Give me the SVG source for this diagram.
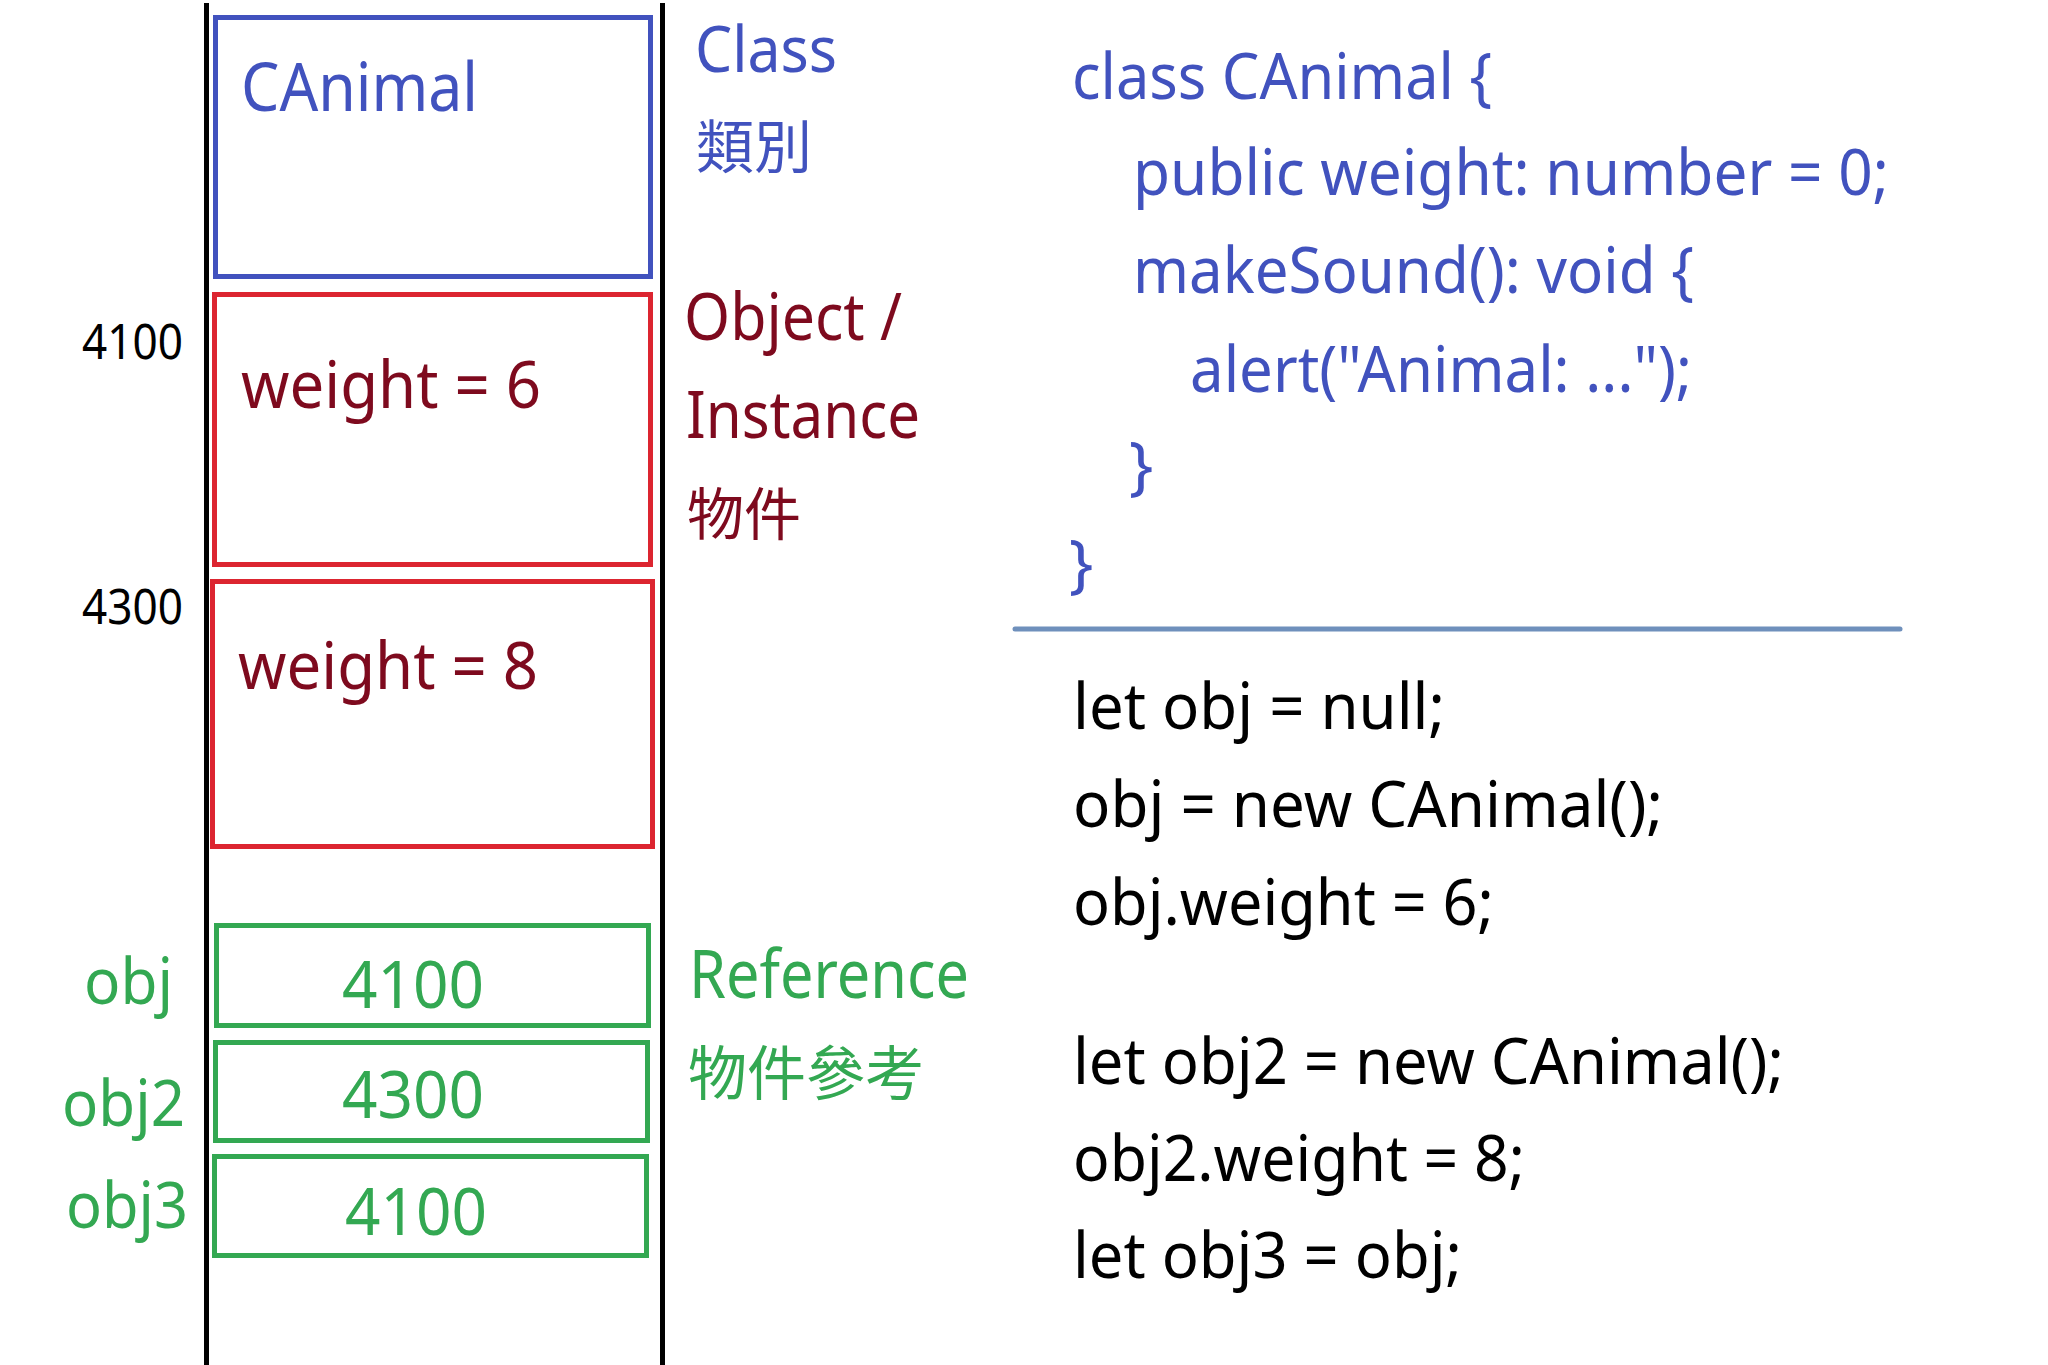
<svg xmlns="http://www.w3.org/2000/svg" width="2048" height="1365" viewBox="0 0 2048 1365">
<style>
text{font-family:"Noto Sans","Open Sans","Noto Sans CJK TC",sans-serif}
.cjk{font-family:"Noto Sans CJK TC","Noto Sans",sans-serif}
.blue{fill:#4152BE}
.maroon{fill:#7E0A1E}
.green{fill:#33A852}
.black{fill:#000}
.bx{fill:none;stroke-width:5}
.cls{stroke:#4152BE}
.obj{stroke:#DC2530}
.ref{stroke:#33A852}
.code{font-size:64px}
</style>
<rect width="2048" height="1365" fill="#fff"/>
<g id="memory-lines">
<line x1="206.5" y1="3" x2="206.5" y2="1365" stroke="#000" stroke-width="5"/>
<line x1="662.5" y1="3" x2="662.5" y2="1365" stroke="#000" stroke-width="5"/>
</g>
<g id="class-box">
<rect class="bx cls" x="215.5" y="17.5" width="435" height="259"/>
<text class="blue" x="241" y="111" font-size="67" textLength="237" lengthAdjust="spacingAndGlyphs">CAnimal</text>
</g>
<g id="object-1">
<rect class="bx obj" x="214.5" y="294.5" width="436" height="270"/>
<text class="maroon" x="241" y="408" font-size="66" textLength="300" lengthAdjust="spacingAndGlyphs">weight = 6</text>
<text class="black" x="82" y="359" font-size="49" textLength="101" lengthAdjust="spacingAndGlyphs">4100</text>
</g>
<g id="object-2">
<rect class="bx obj" x="212.5" y="581.5" width="440" height="265"/>
<text class="maroon" x="238" y="689" font-size="66" textLength="300" lengthAdjust="spacingAndGlyphs">weight = 8</text>
<text class="black" x="82" y="624" font-size="49" textLength="101" lengthAdjust="spacingAndGlyphs">4300</text>
</g>
<g id="ref-obj">
<rect class="bx ref" x="216.5" y="925.5" width="432" height="100"/>
<text class="green" x="342" y="1008" font-size="65" textLength="142" lengthAdjust="spacingAndGlyphs">4100</text>
<text class="green" x="84" y="1004" font-size="63" textLength="89" lengthAdjust="spacingAndGlyphs">obj</text>
</g>
<g id="ref-obj2">
<rect class="bx ref" x="215.5" y="1042.5" width="432" height="98"/>
<text class="green" x="342" y="1118" font-size="65" textLength="142" lengthAdjust="spacingAndGlyphs">4300</text>
<text class="green" x="62" y="1126" font-size="63" textLength="123" lengthAdjust="spacingAndGlyphs">obj2</text>
</g>
<g id="ref-obj3">
<rect class="bx ref" x="214.5" y="1156.5" width="432" height="99"/>
<text class="green" x="345" y="1235" font-size="65" textLength="142" lengthAdjust="spacingAndGlyphs">4100</text>
<text class="green" x="66" y="1228" font-size="63" textLength="122" lengthAdjust="spacingAndGlyphs">obj3</text>
</g>
<g id="labels">
<text class="blue" x="695" y="72" font-size="63" textLength="142" lengthAdjust="spacingAndGlyphs">Class</text>
<text class="blue cjk" x="696" y="168" font-size="58">類別</text>
<text class="maroon" x="684" y="340" font-size="65" textLength="218" lengthAdjust="spacingAndGlyphs">Object /</text>
<text class="maroon" x="686" y="438" font-size="65" textLength="234" lengthAdjust="spacingAndGlyphs">Instance</text>
<text class="maroon cjk" x="687" y="535" font-size="57">物件</text>
<text class="green" x="689" y="998" font-size="67" textLength="280" lengthAdjust="spacingAndGlyphs">Reference</text>
<text class="green cjk" x="688" y="1095" font-size="59">物件參考</text>
</g>
<g id="class-code">
<text class="blue code" x="1072" y="99" textLength="420" lengthAdjust="spacingAndGlyphs">class CAnimal {</text>
<text class="blue code" x="1133" y="195" textLength="756" lengthAdjust="spacingAndGlyphs">public weight: number = 0;</text>
<text class="blue code" x="1133" y="293" textLength="561" lengthAdjust="spacingAndGlyphs">makeSound(): void {</text>
<text class="blue code" x="1190" y="392" textLength="502" lengthAdjust="spacingAndGlyphs">alert("Animal: ...");</text>
<text class="blue code" x="1129" y="488">}</text>
<text class="blue code" x="1069" y="586">}</text>
</g>
<g id="connectors">
<line x1="1015" y1="629" x2="1900" y2="629" stroke="#6F90BC" stroke-width="5" stroke-linecap="round"/>
</g>
<g id="usage-code">
<text class="black code" x="1073" y="729" textLength="372" lengthAdjust="spacingAndGlyphs">let obj = null;</text>
<text class="black code" x="1073" y="827" textLength="590" lengthAdjust="spacingAndGlyphs">obj = new CAnimal();</text>
<text class="black code" x="1073" y="925" textLength="421" lengthAdjust="spacingAndGlyphs">obj.weight = 6;</text>
<text class="black code" x="1073" y="1084" textLength="711" lengthAdjust="spacingAndGlyphs">let obj2 = new CAnimal();</text>
<text class="black code" x="1073" y="1181" textLength="452" lengthAdjust="spacingAndGlyphs">obj2.weight = 8;</text>
<text class="black code" x="1073" y="1278" textLength="389" lengthAdjust="spacingAndGlyphs">let obj3 = obj;</text>
</g>
</svg>
